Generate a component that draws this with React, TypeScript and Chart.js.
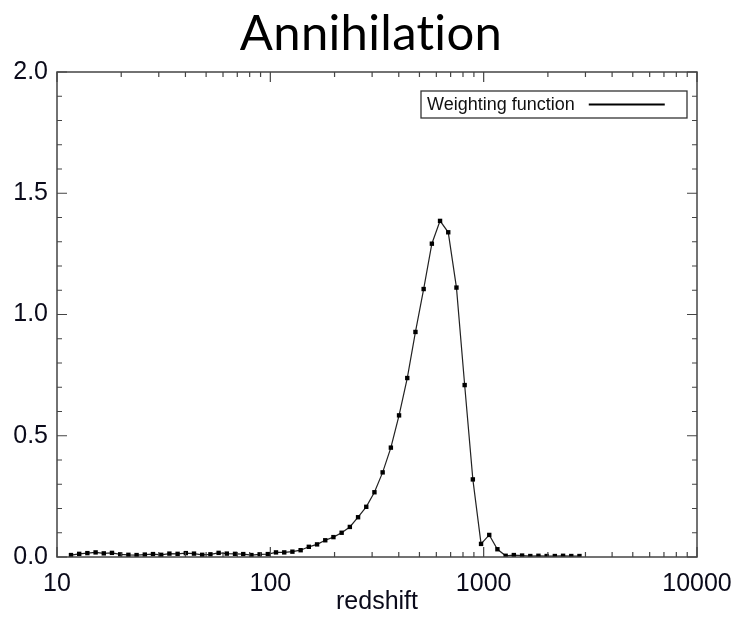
import React, { useEffect, useRef } from "react";
import { Chart, registerables } from "chart.js";

Chart.register(...registerables);

const redshift = [11.63, 12.71, 13.88, 15.17, 16.57, 18.10, 19.78, 21.61, 23.61, 25.80, 28.18, 30.79, 33.64, 36.76, 40.16, 43.87, 47.94, 52.37, 57.23, 62.52, 68.32, 74.64, 81.54, 89.10, 97.32, 106.3, 116.2, 126.9, 138.7, 151.5, 165.6, 180.9, 197.6, 215.9, 235.9, 257.8, 281.6, 307.6, 336.1, 367.3, 401.2, 438.4, 478.9, 523.2, 571.7, 624.5, 682.3, 745.5, 814.5, 889.8, 972.2, 1062, 1160, 1268, 1385, 1514, 1654, 1806, 1974, 2156, 2356, 2574, 2812];

const weighting = [0.008, 0.013, 0.016, 0.019, 0.015, 0.017, 0.011, 0.009, 0.008, 0.010, 0.012, 0.009, 0.014, 0.013, 0.016, 0.014, 0.009, 0.011, 0.017, 0.014, 0.013, 0.012,
  0.008, 0.011, 0.012, 0.019, 0.019, 0.022, 0.028, 0.042, 0.052, 0.069, 0.082, 0.100, 0.124, 0.164, 0.207, 0.267, 0.349, 0.451, 0.584,
  0.738, 0.928, 1.105, 1.292, 1.386, 1.339, 1.111, 0.709, 0.32, 0.054, 0.091, 0.032,
  0.005, 0.008, 0.006, 0.004, 0.005, 0.004, 0.004, 0.005, 0.004, 0.004];

const xTickValues = [10, 100, 1000, 10000];
const yTickValues = [0, 0.5, 1.0, 1.5, 2.0];
const chartTitle = "Annihilation";
const xAxisTitle = "redshift";
const seriesLabel = "Weighting function";

const TICK_FONT = "'Liberation Sans', Arial, sans-serif";

const frameAndTicks = {
  id: "frameAndTicks",
  afterDraw(chart: any) {
    const { ctx, chartArea, scales } = chart;
    const { left, right, top, bottom } = chartArea;
    const xs = scales.x;
    const ys = scales.y;
    ctx.save();
    // title
    ctx.fillStyle = "#000";
    ctx.font = "49px Lato, 'Open Sans', sans-serif";
    try { (ctx as any).letterSpacing = "0.3px"; } catch (e) {}
    ctx.textAlign = "center";
    ctx.textBaseline = "alphabetic";
    ctx.fillText(chartTitle, 371, 50);
    try { (ctx as any).letterSpacing = "0px"; } catch (e) {}

    ctx.strokeStyle = "#444";
    ctx.lineWidth = 1.5;
    ctx.strokeRect(left, top, right - left, bottom - top);
    ctx.lineWidth = 1.2;
    ctx.beginPath();
    for (let d = 10; d <= 10000; d *= 10) {
      for (let k = 1; k <= 9; k++) {
        const v = d * k;
        if (v > 10000) break;
        const px = xs.getPixelForValue(v);
        const len = k === 1 ? 10 : 5;
        ctx.moveTo(px, bottom);
        ctx.lineTo(px, bottom - len);
        ctx.moveTo(px, top);
        ctx.lineTo(px, top + len);
      }
    }
    for (let i = 0; i <= 20; i++) {
      const v = i / 10;
      const py = ys.getPixelForValue(v);
      const len = i % 5 === 0 ? 10 : 5;
      ctx.moveTo(left, py);
      ctx.lineTo(left + len, py);
      ctx.moveTo(right, py);
      ctx.lineTo(right - len, py);
    }
    ctx.stroke();

    // legend
    const bx = right - 276;
    const by = top + 19;
    const bw = 266;
    const bh = 27;
    ctx.fillStyle = "#fff";
    ctx.fillRect(bx, by, bw, bh);
    ctx.strokeStyle = "#333";
    ctx.lineWidth = 1.3;
    ctx.strokeRect(bx, by, bw, bh);
    ctx.fillStyle = "#111";
    ctx.font = "18px " + TICK_FONT;
    ctx.textBaseline = "middle";
    ctx.textAlign = "left";
    const label = chart.data.datasets[0].label;
    ctx.fillText(label, bx + 6, by + bh / 2 + 1);
    const tw = ctx.measureText(label).width;
    ctx.strokeStyle = "#000";
    ctx.lineWidth = 2;
    ctx.beginPath();
    ctx.moveTo(bx + 6 + tw + 14, by + bh / 2);
    ctx.lineTo(bx + 6 + tw + 90, by + bh / 2);
    ctx.stroke();
    ctx.restore();
  },
};

export default function App() {
  const ref = useRef<HTMLCanvasElement | null>(null);
  useEffect(() => {
    if (!ref.current) return;
    const chart = new Chart(ref.current, {
      type: "line",
      data: {
        datasets: [
          {
            label: seriesLabel,
            data: redshift.map((x, i) => ({ x, y: weighting[i] })),
            borderColor: "#222",
            borderWidth: 1.2,
            backgroundColor: "#000",
            pointStyle: "rect",
            pointRadius: 3.1,
            pointBorderWidth: 0,
            pointBackgroundColor: "#000",
            tension: 0,
          },
        ],
      },
      plugins: [frameAndTicks],
      options: {
        animation: false,
        responsive: true,
        maintainAspectRatio: false,
        layout: { padding: { left: 0, right: 37, top: 72, bottom: 0 } },
        plugins: {
          legend: { display: false },
          tooltip: { enabled: false },
          title: { display: false },
        },
        scales: {
          x: {
            type: "logarithmic",
            min: 10,
            max: 10000,
            afterBuildTicks: (scale: any) => {
              scale.ticks = xTickValues.map((v) => ({ value: v }));
            },
            afterFit: (scale: any) => {
              scale.height = 63;
              scale.paddingLeft = 0;
              scale.paddingRight = 0;
            },
            grid: { display: false, drawTicks: false },
            border: { display: false },
            ticks: {
              color: "#0a0a1a",
              padding: 12,
              maxRotation: 0,
              autoSkip: false,
              font: { family: TICK_FONT, size: 25 },
              callback: (v: any) => String(v),
            },
            title: {
              display: true,
              text: xAxisTitle,
              color: "#0a0a1a",
              font: { family: TICK_FONT, size: 25 },
              padding: { top: 0, bottom: 3 },
            },
          },
          y: {
            type: "linear",
            min: 0,
            max: 2,
            afterBuildTicks: (scale: any) => {
              scale.ticks = yTickValues.map((v) => ({ value: v }));
            },
            afterFit: (scale: any) => {
              scale.width = 57;
              scale.paddingTop = 0;
              scale.paddingBottom = 0;
            },
            grid: { display: false, drawTicks: false },
            border: { display: false },
            ticks: {
              color: "#0a0a1a",
              padding: 9,
              autoSkip: false,
              font: { family: TICK_FONT, size: 25 },
              callback: (v: any) => Number(v).toFixed(1),
            },
          },
        },
      },
    });
    return () => chart.destroy();
  }, []);
  return (
    <div style={{ position: "absolute", left: 0, top: 0, width: 734, height: 620, background: "#fff" }}>
      <canvas ref={ref} />
    </div>
  );
}
